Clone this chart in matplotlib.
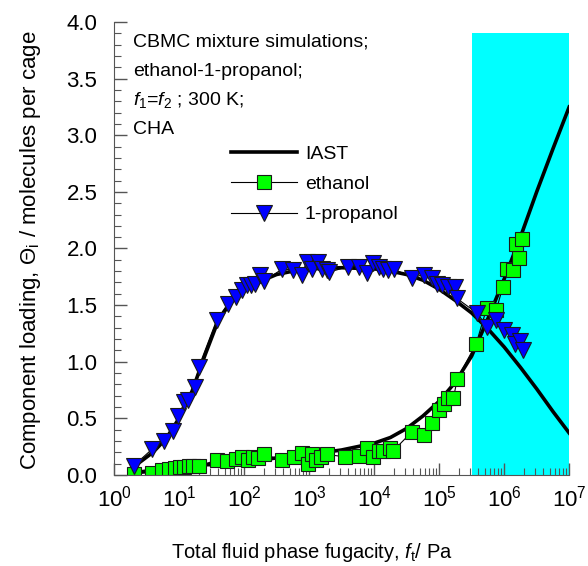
import numpy as np
import matplotlib
matplotlib.use("Agg")
import matplotlib.pyplot as plt
from matplotlib.ticker import MultipleLocator, LogLocator

plt.rcParams['font.family'] = ['Liberation Sans', 'DejaVu Sans']
plt.rcParams['mathtext.fontset'] = 'custom'
plt.rcParams['mathtext.rm'] = 'Liberation Sans'
plt.rcParams['mathtext.it'] = 'Liberation Sans:italic'
plt.rcParams['font.size'] = 14

# CBMC mixture data, ethanol (component 1)
log_f_eth = [0.30, 0.59, 0.73, 0.85, 0.94, 1.02, 1.08, 1.15, 1.22, 1.30,
             1.58, 1.73, 1.87, 1.97, 2.06, 2.13, 2.22, 2.30,
             2.59, 2.77, 2.89, 2.98, 3.05, 3.10, 3.18, 3.27,
             3.55, 3.76, 3.89, 3.99, 4.07, 4.14, 4.24, 4.29,
             4.58, 4.76, 4.89, 4.99, 5.07, 5.13, 5.22, 5.28,
             5.57, 5.73, 5.88, 5.98, 6.04, 6.13, 6.23, 6.18, 6.28]
theta_eth = [0.01, 0.02, 0.04, 0.05, 0.06, 0.07, 0.07, 0.08, 0.08, 0.08,
             0.13, 0.12, 0.14, 0.16, 0.13, 0.16, 0.15, 0.18,
             0.13, 0.16, 0.19, 0.10, 0.18, 0.13, 0.16, 0.18,
             0.16, 0.17, 0.24, 0.16, 0.21, 0.21, 0.24, 0.21,
             0.38, 0.35, 0.46, 0.57, 0.63, 0.68, 0.68, 0.85,
             1.16, 1.47, 1.46, 1.66, 1.82, 1.81, 1.92, 2.04, 2.08]

# CBMC mixture data, 1-propanol (component 2)
log_f_prop = [0.30, 0.59, 0.77, 0.90, 0.99, 1.08, 1.14, 1.25, 1.30,
              1.58, 1.75, 1.87, 1.97, 2.04, 2.11, 2.17, 2.25, 2.30,
              2.59, 2.75, 2.89, 2.96, 3.04, 3.13, 3.20, 3.27,
              3.30, 3.60, 3.76, 3.89, 3.99, 4.07, 4.14, 4.22, 4.30,
              4.58, 4.76, 4.89, 4.96, 5.04, 5.14, 5.25, 5.27,
              5.58, 5.74, 5.88, 5.99, 6.12, 6.17, 6.24, 6.29]
theta_prop = [0.08, 0.23, 0.30, 0.39, 0.52, 0.64, 0.66, 0.78, 0.95,
              1.37, 1.51, 1.57, 1.63, 1.68, 1.68, 1.69, 1.77, 1.71,
              1.82, 1.81, 1.77, 1.88, 1.82, 1.88, 1.82, 1.81,
              1.79, 1.84, 1.84, 1.78, 1.87, 1.84, 1.82, 1.81, 1.82,
              1.74, 1.77, 1.74, 1.69, 1.68, 1.66, 1.66, 1.56,
              1.43, 1.31, 1.37, 1.28, 1.24, 1.16, 1.18, 1.10]

# IAST predictions
log_f_iast = [0.30, 0.60, 0.80, 1.00, 1.20, 1.40, 1.60, 1.80, 2.00, 2.25,
              2.50, 2.75, 3.00, 3.50, 4.00, 4.25, 4.50, 4.75, 5.00, 5.25,
              5.50, 5.75, 6.00, 6.25, 6.50, 6.75, 7.00]
iast_eth = [0.02, 0.04, 0.05, 0.07, 0.08, 0.09, 0.09, 0.10, 0.12, 0.13,
            0.15, 0.16, 0.18, 0.22, 0.28, 0.33, 0.41, 0.52, 0.65, 0.82,
            1.05, 1.38, 1.73, 2.10, 2.50, 2.88, 3.25]
iast_prop = [0.07, 0.20, 0.32, 0.50, 0.74, 1.06, 1.36, 1.53, 1.63, 1.71,
             1.77, 1.80, 1.82, 1.83, 1.82, 1.80, 1.77, 1.72, 1.64, 1.54,
             1.43, 1.29, 1.13, 0.95, 0.76, 0.56, 0.37]

f_eth = 10 ** np.array(log_f_eth)
f_prop = 10 ** np.array(log_f_prop)
f_iast = 10 ** np.array(log_f_iast)

fig = plt.figure(figsize=(5.88, 5.66), dpi=100)
ax = fig.add_axes([0.194, 0.161, 0.774, 0.800])

ax.axvspan(3.2e5, 1e7, ymin=0, ymax=3.9 / 4.0, color='#00FFFF', lw=0, zorder=0)

ax.plot(f_iast, iast_eth, '-', color='k', lw=2.6, zorder=2, label='IAST')
ax.plot(f_iast, iast_prop, '-', color='k', lw=2.6, zorder=2)
ax.plot(f_eth, theta_eth, '-s', color='k', lw=0.8, ms=10.5,
        mfc='#00FF00', mec='#1a1a1a', mew=0.8, zorder=3, label='ethanol')
ax.plot(f_prop, theta_prop, '-v', color='k', lw=0.8, ms=12,
        mfc='#0000FF', mec='#1a1a1a', mew=0.8, zorder=3, label='1-propanol')

ax.set_xscale('log')
ax.set_xlim(1, 1e7)
ax.set_ylim(0, 4.0)
ax.yaxis.set_major_locator(MultipleLocator(0.5))
ax.yaxis.set_minor_locator(MultipleLocator(0.1))
ax.yaxis.set_major_formatter(plt.FormatStrFormatter('%.1f'))
ax.xaxis.set_major_locator(LogLocator(base=10, numticks=10))
ax.xaxis.set_minor_locator(LogLocator(base=10, subs=np.arange(2, 10), numticks=20))

for side in ['top', 'right']:
    ax.spines[side].set_visible(False)
for side in ['left', 'bottom']:
    ax.spines[side].set_color('#555555')
    ax.spines[side].set_zorder(4)
ax.tick_params(which='both', direction='in', colors='#555555', labelcolor='k',
               labelsize=16)
ax.tick_params(which='major', length=9, width=1)
ax.tick_params(which='minor', length=5, width=0.8)
ax.tick_params(axis='x', which='major', pad=8)
ax.tick_params(axis='y', which='major', pad=12)

ax.set_xlabel(r'Total fluid phase fugacity, $f_{\rm t}$/ Pa', fontsize=14.5)
ax.set_ylabel(r'Component loading, $\Theta_{\rm i}$ / molecules per cage', fontsize=16)
ax.xaxis.set_label_coords(0.435, -0.145)
ax.yaxis.set_label_coords(-0.156, 0.497)

lines = ['CBMC mixture simulations;', 'ethanol-1-propanol;',
         r'$f_1$=$f_2$ ; 300 K;', 'CHA']
for i, s in enumerate(lines):
    ax.text(0.042, 0.955 - i * 0.064, s, transform=ax.transAxes,
            fontsize=14, va='center', ha='left')

ax.legend(loc='upper left', bbox_to_anchor=(0.24, 0.745), frameon=False,
          fontsize=14, handlelength=3.4, handletextpad=0.4, labelspacing=0.65,
          borderaxespad=0)

fig.savefig('out.png', dpi=100)
